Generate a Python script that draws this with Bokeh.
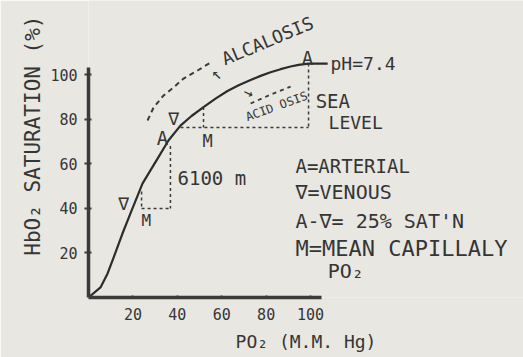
import math
from bokeh.plotting import figure
from bokeh.models import Range1d, FixedTicker, Title
from bokeh.embed import file_html
from bokeh.resources import INLINE
from bokeh.core.properties import value

# ---- data ----
# oxygen dissociation curve (PO2 mmHg, HbO2 saturation %), ends in the pH=7.4 leader
po2_curve = [0, 5.4, 8.6, 11.3, 15.3, 18.9, 24.3, 31.1, 36.0, 41.4, 46.4, 51.8, 57.2,
             62.6, 67.6, 73.0, 77.5, 82.0, 86.5, 91.0, 94.6, 99.1, 107.7]
sat_curve = [0, 4.5, 10.8, 17.9, 28.7, 37.7, 51.1, 62.3, 70.4, 77.1, 81.4, 85.4, 89.2,
             92.6, 95.2, 97.5, 99.4, 101.0, 102.4, 103.6, 104.3, 104.9, 104.9]
# alcalosis (left-shifted) dashed curve
alk_po2 = [26.6, 29.3, 33.8, 38.3, 42.8, 49.1, 55.0]
alk_sat = [79.4, 85.2, 90.6, 94.2, 98.2, 101.8, 105.4]
# acidosis (right-shifted) dashed curve
acid_po2 = [73.0, 82.0, 91.0]
acid_sat = [87.0, 91.0, 94.6]
# sea level / 6100 m : arterial, venous, mean capillary
arterial_po2 = [99.1, 36.9]
arterial_sat = [104.9, 68.0]
venous_po2 = [41.4, 23.9]
venous_sat = [76.2, 39.9]
mean_po2 = [51.8, 23.9]
mean_sat = [85.4, 47.5]
x_ticks = [20, 40, 60, 80, 100]
y_ticks = [20, 40, 60, 80, 100]

INK = "#353535"
BG = "#e8e7e2"
FONT = value("DejaVu Sans Mono")

p = figure(width=523, height=357, x_range=Range1d(0, 195.9), y_range=Range1d(0, 133.2),
           output_backend="svg", toolbar_location=None,
           min_border_left=88, min_border_right=0, min_border_top=0, min_border_bottom=60)
p.outline_line_color = None
p.grid.visible = False
p.background_fill_color = BG
p.border_fill_color = BG

for ax, bnd in ((p.xaxis, (0, 105)), (p.yaxis, (0, 103))):
    ax.bounds = bnd
    ax.axis_line_width = 3.5
    ax.axis_line_color = "#3a3a3a"
    ax.major_tick_line_color = "#3a3a3a"
    ax.major_tick_line_width = 2
    ax.minor_tick_line_color = None
    ax.major_label_text_font = "DejaVu Sans Mono"
    ax.major_label_text_font_size = "15px"
    ax.major_label_text_color = INK
p.xaxis.ticker = FixedTicker(ticks=x_ticks)
p.yaxis.ticker = FixedTicker(ticks=y_ticks)
p.xaxis.major_tick_in = 2
p.xaxis.major_tick_out = 0
p.xaxis.major_label_standoff = 10
p.yaxis.major_tick_in = 3
p.yaxis.major_tick_out = 4
p.yaxis.major_label_standoff = 7

# x-axis title
p.xaxis.axis_label = "PO₂ (M.M. Hg)"
p.xaxis.axis_label_text_font = "DejaVu Sans Mono"
p.xaxis.axis_label_text_font_size = "18px"
p.xaxis.axis_label_text_font_style = "normal"
p.xaxis.axis_label_text_color = INK
p.xaxis.axis_label_standoff = 8

# y-axis title as a side title, anchored near the top of the frame
p.add_layout(Title(text="HbO₂ SATURATION (%)", align="right", offset=15, standoff=6,
                   text_font="DejaVu Sans Mono", text_font_size="21px",
                   text_font_style="normal", text_color=INK), "left")

# curves
p.line(po2_curve, sat_curve, line_width=2.2, line_color="#2c2c2c", line_join="round")
p.line(alk_po2, alk_sat, line_width=2, line_color="#3a3a3a", line_dash="5 4")
p.line(acid_po2, acid_sat, line_width=1.8, line_color="#3a3a3a", line_dash="4 4")

# dashed construction lines
p.segment(x0=arterial_po2, y0=arterial_sat, x1=arterial_po2, y1=venous_sat,
          line_width=1.5, line_color="#3a3a3a", line_dash="3 3")
p.segment(x0=venous_po2, y0=venous_sat, x1=arterial_po2, y1=venous_sat,
          line_width=1.5, line_color="#3a3a3a", line_dash="3 3")
p.segment(x0=mean_po2, y0=mean_sat, x1=mean_po2, y1=venous_sat,
          line_width=1.5, line_color="#3a3a3a", line_dash="3 3")

def txt(x, y, t, size, align="center", angle=0.0):
    p.text(x=[x], y=[y], text=[t], text_font=FONT, text_font_size=size,
           text_align=align, text_baseline="middle", text_color=INK, angle=angle)

# point labels
txt(33.3, 71.7, "A", "19px")
txt(38.3, 80.3, "∇", "18px")
txt(53.6, 70.4, "M", "17px")
txt(98.6, 107.6, "A", "19px")
txt(15.8, 42.2, "∇", "18px")
txt(26.0, 34.5, "M", "16px")
txt(109.0, 104.9, "pH=7.4", "18px", "left")
txt(102.3, 88.3, "SEA", "19px", "left")
txt(108.1, 78.5, "LEVEL", "18px", "left")
txt(40.1, 53.4, "6100 m", "19px", "left")
txt(80.6, 115.2, "ALCALOSIS", "18px", "center", math.radians(22.8))
txt(84.7, 85.7, "ACID OSIS", "12px", "center", math.radians(20))
txt(57.7, 100.9, "↖", "17px")
txt(72.1, 91.9, "→", "16px", "center", math.radians(-25))

# key
txt(93.2, 59.0, "A=ARTERIAL", "19px", "left")
txt(93.2, 47.5, "∇=VENOUS", "20px", "left")
txt(93.2, 34.5, "A-∇= 25% SAT'N", "20px", "left")
txt(93.2, 22.0, "M=MEAN CAPILLALY", "22px", "left")
txt(107.7, 12.1, "PO₂", "20px", "left")

open("out.html", "w").write(file_html(p, INLINE))
